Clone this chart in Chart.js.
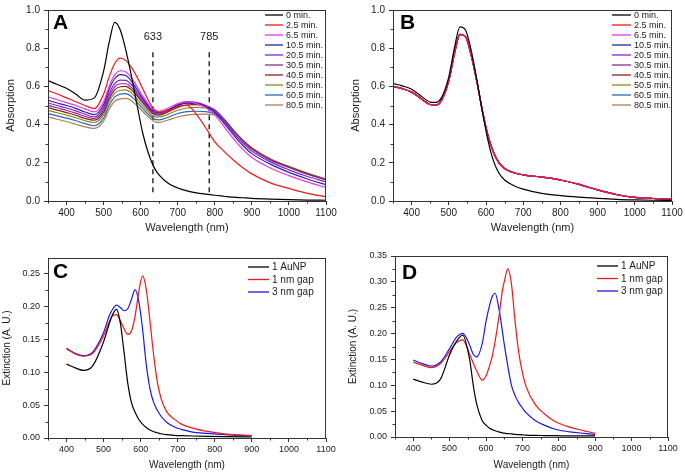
<!DOCTYPE html>
<html>
<head>
<meta charset="utf-8">
<script src="https://cdn.jsdelivr.net/npm/chart.js@4.4.1/dist/chart.umd.min.js"></script>
<style>
  body { margin: 0; background: #fff; }
  #wrap { position: relative; width: 685px; height: 473px; overflow: hidden; }
  canvas { position: absolute; }
</style>
</head>
<body>
<div id="wrap">
  <canvas id="cA" width="340" height="237" style="left:0;top:0"></canvas>
  <canvas id="cB" width="340" height="237" style="left:345px;top:0"></canvas>
  <canvas id="cC" width="340" height="233" style="left:0;top:240px"></canvas>
  <canvas id="cD" width="340" height="233" style="left:345px;top:240px"></canvas>
</div>
<script>
// ---- data ----
const timeLabels = ['0 min.', '2.5 min.', '6.5 min.', '10.5 min.', '20.5 min.', '30.5 min.', '40.5 min.', '50.5 min.', '60.5 min.', '80.5 min.'];
const timeColors = ['#000000', '#f01818', '#f030f0', '#28289a', '#8420e0', '#8e2c8e', '#8c1c1c', '#8a8a1e', '#2468c8', '#b07d4a'];

const wlA = [350, 375, 400, 425, 450, 475, 500, 515, 530, 545, 560, 575, 590, 605, 620, 635, 650, 675, 700, 725, 750, 775, 800, 825, 850, 875, 900, 950, 1000, 1050, 1100];
const a0  = [.630, .610, .590, .560, .528, .540, .680, .830, .935, .895, .790, .655, .505, .360, .255, .180, .135, .092, .068, .053, .043, .036, .030, .025, .020, .017, .014, .010, .007, .005, .004];
const a2  = [.578, .560, .540, .520, .500, .484, .560, .650, .720, .748, .735, .700, .650, .590, .530, .482, .465, .472, .495, .500, .455, .385, .310, .260, .215, .175, .142, .095, .066, .040, .022];
const a6  = [.545, .530, .515, .500, .482, .467, .520, .600, .660, .682, .675, .645, .600, .550, .510, .478, .470, .487, .510, .520, .510, .490, .450, .390, .327, .272, .228, .173, .133, .100, .070];
const a10 = [.527, .513, .500, .485, .466, .452, .505, .585, .640, .662, .657, .628, .585, .540, .500, .470, .463, .478, .500, .512, .510, .495, .462, .407, .347, .292, .248, .193, .150, .115, .085];
const a20 = [.513, .500, .487, .472, .454, .440, .490, .565, .615, .633, .632, .610, .570, .530, .495, .466, .460, .478, .505, .520, .516, .500, .470, .417, .357, .305, .262, .205, .163, .128, .100];
const a30 = [.501, .488, .475, .460, .443, .432, .478, .550, .598, .614, .614, .595, .560, .522, .488, .460, .455, .475, .500, .515, .513, .500, .476, .426, .367, .315, .272, .214, .176, .140, .110];
const a40 = [.489, .476, .463, .449, .432, .423, .465, .535, .582, .598, .600, .582, .550, .515, .480, .455, .450, .468, .490, .503, .505, .497, .476, .428, .370, .318, .275, .217, .178, .142, .112];
const a50 = [.475, .462, .450, .436, .420, .411, .452, .520, .565, .580, .582, .566, .535, .500, .468, .443, .440, .455, .475, .487, .490, .487, .471, .428, .371, .319, .277, .219, .180, .144, .114];
const a60 = [.458, .446, .434, .420, .405, .394, .435, .500, .545, .560, .562, .547, .518, .485, .455, .430, .425, .440, .458, .468, .470, .468, .458, .421, .367, .317, .275, .217, .178, .143, .113];
const a80 = [.440, .428, .416, .402, .388, .380, .418, .480, .522, .535, .537, .525, .500, .470, .442, .418, .412, .425, .440, .450, .454, .455, .450, .419, .369, .320, .279, .221, .181, .146, .116];
const markWl = [633, 785];
const markSpan = [0.046, 0.80];

const wlB = [350, 375, 400, 425, 450, 465, 480, 500, 515, 530, 545, 560, 575, 590, 605, 620, 635, 650, 675, 700, 750, 800, 850, 900, 950, 1000, 1050, 1100];
const b0    = [.615, .603, .585, .550, .518, .516, .540, .650, .800, .912, .895, .790, .640, .470, .320, .210, .145, .110, .080, .062, .040, .028, .020, .014, .009, .006, .004, .003];
const bAged = [.600, .588, .570, .537, .505, .502, .525, .630, .770, .872, .860, .765, .630, .475, .345, .255, .200, .170, .148, .137, .125, .110, .087, .058, .034, .019, .013, .010];

const gapLabels = ['1 AuNP', '1 nm gap', '3 nm gap'];
const gapColors = ['#000000', '#f01818', '#1818f0'];

const wlC   = [400, 425, 445, 470, 500, 515, 525, 535, 545, 555, 565, 575, 585, 595, 605, 615, 625, 635, 645, 655, 670, 690, 710, 740, 780, 830, 900];
const cMono = [.112, .106, .1025, .109, .146, .173, .188, .195, .175, .131, .084, .054, .039, .028, .021, .016, .012, .0095, .008, .0065, .005, .004, .0035, .003, .0025, .002, .0015];
const cGap1 = [.135, .127, .124, .128, .155, .176, .186, .187, .178, .166, .157, .162, .185, .222, .246, .226, .178, .126, .085, .060, .040, .029, .021, .015, .010, .006, .004];
const cGap3 = [.136, .128, .125, .130, .160, .185, .196, .2015, .198, .193, .196, .210, .225, .207, .166, .112, .075, .054, .042, .033, .024, .017, .013, .009, .007, .005, .003];

const wlD   = [400, 425, 450, 475, 500, 518, 536, 555, 565, 575, 590, 600, 610, 618, 625, 635, 645, 650, 660, 670, 680, 690, 700, 710, 735, 760, 790, 830, 870, 900];
const dMono = [.112, .106, .102, .112, .159, .184, .197, .150, .100, .062, .031, .023, .017, .014, .012, .010, .008, .0075, .0065, .006, .005, .0045, .004, .0035, .003, .0028, .0025, .002, .002, .002];
const dGap1 = [.145, .139, .134, .142, .165, .182, .188, .160, .143, .127, .110, .118, .138, .159, .185, .230, .283, .300, .325, .295, .223, .163, .125, .098, .063, .045, .030, .019, .012, .007];
const dGap3 = [.149, .142, .137, .145, .171, .192, .2005, .178, .160, .155, .182, .223, .255, .273, .278, .250, .205, .180, .137, .100, .080, .066, .056, .047, .032, .023, .015, .010, .007, .005];

const xTicks = [400, 500, 600, 700, 800, 900, 1000, 1100];
const xMinor = [350, 450, 550, 650, 750, 850, 950, 1050];
const yTicksAB = [0, 0.2, 0.4, 0.6, 0.8, 1.0];
const yMinorAB = [0.1, 0.3, 0.5, 0.7, 0.9];
const yTicksC = [0, 0.05, 0.10, 0.15, 0.20, 0.25];
const yMinorC = [0.025, 0.075, 0.125, 0.175, 0.225];
const yTicksD = [0, 0.05, 0.10, 0.15, 0.20, 0.25, 0.30, 0.35];
const yMinorD = [0.025, 0.075, 0.125, 0.175, 0.225, 0.275, 0.325];

// ---- drawing ----
Chart.defaults.font.family = '"Liberation Sans", Arial, sans-serif';
Chart.defaults.color = '#222';
Chart.defaults.animation = false;

const INK = '#333';

function pts(xs, ys) { return xs.map((x, i) => ({ x: x, y: ys[i] })); }

function curve(label, color, xs, ys) {
  return {
    label: label, data: pts(xs, ys), borderColor: color, backgroundColor: color,
    borderWidth: 1.2, pointRadius: 0, cubicInterpolationMode: 'monotone', fill: false
  };
}

const decor = {
  id: 'decor',
  afterDraw(chart, args, o) {
    const ctx = chart.ctx, a = chart.chartArea, x = chart.scales.x, y = chart.scales.y;
    ctx.save();
    // frame
    ctx.strokeStyle = INK; ctx.lineWidth = 1;
    ctx.strokeRect(a.left + 0.5, a.top + 0.5, a.right - a.left - 1, a.bottom - a.top);
    // minor ticks
    ctx.beginPath();
    o.xMinor.forEach(v => { const p = Math.round(x.getPixelForValue(v)) + 0.5; ctx.moveTo(p, a.bottom); ctx.lineTo(p, a.bottom + 2.5); });
    o.yMinor.forEach(v => { const p = Math.round(y.getPixelForValue(v)) + 0.5; ctx.moveTo(a.left, p); ctx.lineTo(a.left - 2.5, p); });
    ctx.stroke();
    // legend
    const L = o.legend;
    ctx.font = L.size + 'px "Liberation Sans", Arial, sans-serif';
    ctx.textBaseline = 'middle'; ctx.textAlign = 'left';
    let row = 0;
    chart.data.datasets.forEach(ds => {
      if (!ds.label) return;
      const yy = L.y + row * L.step;
      ctx.strokeStyle = ds.borderColor; ctx.lineWidth = 1.3;
      ctx.beginPath(); ctx.moveTo(L.x, yy); ctx.lineTo(L.x + L.len, yy); ctx.stroke();
      ctx.fillStyle = '#222'; ctx.fillText(ds.label, L.x + L.len + 3, yy + 0.5);
      row++;
    });
    // panel letter
    ctx.font = 'bold 21px "Liberation Sans", Arial, sans-serif';
    ctx.fillStyle = '#000'; ctx.textBaseline = 'middle';
    ctx.fillText(o.letter.text, o.letter.x, o.letter.y);
    // marker labels
    if (o.marks) {
      ctx.font = '11px "Liberation Sans", Arial, sans-serif';
      ctx.textAlign = 'center'; ctx.fillStyle = '#222';
      o.marks.forEach(m => ctx.fillText(String(m), x.getPixelForValue(m), y.getPixelForValue(0.86)));
    }
    ctx.restore();
  }
};

function makeChart(id, cfg) {
  return new Chart(document.getElementById(id), {
    type: 'line',
    data: { datasets: cfg.datasets },
    plugins: [decor],
    options: {
      responsive: false,
      layout: { padding: cfg.pad },
      plugins: { legend: { display: false }, tooltip: { enabled: false }, decor: cfg.decor },
      scales: {
        x: {
          type: 'linear', min: 350, max: 1100,
          afterFit: s => { s.height = cfg.xH; },
          afterBuildTicks: s => { s.ticks = xTicks.map(v => ({ value: v })); },
          ticks: { font: { size: cfg.tickSize }, padding: 2, maxRotation: 0, color: '#222', callback: v => String(v) },
          grid: { drawOnChartArea: false, tickLength: 4, tickColor: INK },
          border: { color: INK },
          title: { display: true, text: 'Wavelength (nm)', font: { size: cfg.titleSize }, padding: { top: 2, bottom: 2 }, color: '#222' }
        },
        y: {
          min: 0, max: cfg.yMax,
          afterFit: s => { s.width = cfg.yW; },
          afterBuildTicks: s => { s.ticks = cfg.yTicks.map(v => ({ value: v })); },
          ticks: { font: { size: cfg.tickSize }, padding: 4, color: '#222', callback: v => v.toFixed(cfg.dec) },
          grid: { drawOnChartArea: false, tickLength: 4, tickColor: INK },
          border: { color: INK },
          title: { display: true, text: cfg.yTitle, font: { size: cfg.titleSize }, padding: { top: cfg.yTitlePad, bottom: 2 }, color: '#222' }
        }
      }
    }
  });
}

// Panel A
const dsA = [a0, a2, a6, a10, a20, a30, a40, a50, a60, a80].map((s, i) => curve(timeLabels[i], timeColors[i], wlA, s));
markWl.forEach(w => dsA.push({
  label: '', data: markSpan.map(v => ({ x: w, y: v })), borderColor: '#222', borderWidth: 1.4,
  borderDash: [5, 4], pointRadius: 0
}));
makeChart('cA', {
  datasets: dsA, pad: { top: 6, right: 14 }, xH: 36, yW: 48, yMax: 1.0, yTicks: yTicksAB, dec: 1,
  tickSize: 10, titleSize: 11, yTitle: 'Absorption', yTitlePad: 4,
  decor: { xMinor: xMinor, yMinor: yMinorAB, legend: { x: 265, y: 15, step: 10, len: 18, size: 9 },
           letter: { text: 'A', x: 53, y: 23 }, marks: markWl }
});

// Panel B
const dsB = [b0, bAged, bAged, bAged, bAged, bAged, bAged, bAged, bAged, bAged].map((s, i) => curve(timeLabels[i], timeColors[i], wlB, s));
makeChart('cB', {
  datasets: dsB, pad: { top: 5, right: 13 }, xH: 36, yW: 48, yMax: 1.0, yTicks: yTicksAB, dec: 1,
  tickSize: 10, titleSize: 11, yTitle: 'Absorption', yTitlePad: 4,
  decor: { xMinor: xMinor, yMinor: yMinorAB, legend: { x: 267, y: 15, step: 10, len: 19, size: 9 },
           letter: { text: 'B', x: 55, y: 23 } }
});

// Panel C
const dsC = [cMono, cGap1, cGap3].map((s, i) => curve(gapLabels[i], gapColors[i], wlC, s));
makeChart('cC', {
  datasets: dsC, pad: { top: 18, right: 14 }, xH: 35, yW: 48, yMax: 0.273, yTicks: yTicksC, dec: 2,
  tickSize: 9, titleSize: 10, yTitle: 'Extinction (A. U.)', yTitlePad: 1,
  decor: { xMinor: xMinor, yMinor: yMinorC, legend: { x: 248, y: 27, step: 12.5, len: 21, size: 10 },
           letter: { text: 'C', x: 53, y: 32 } }
});

// Panel D
const dsD = [dMono, dGap1, dGap3].map((s, i) => curve(gapLabels[i], gapColors[i], wlD, s));
makeChart('cD', {
  datasets: dsD, pad: { top: 16, right: 17 }, xH: 36, yW: 50, yMax: 0.35, yTicks: yTicksD, dec: 2,
  tickSize: 9, titleSize: 10, yTitle: 'Extinction (A. U.)', yTitlePad: 2,
  decor: { xMinor: xMinor, yMinor: yMinorD, legend: { x: 252, y: 26, step: 12.5, len: 21, size: 10 },
           letter: { text: 'D', x: 57, y: 33 } }
});
</script>
</body>
</html>
